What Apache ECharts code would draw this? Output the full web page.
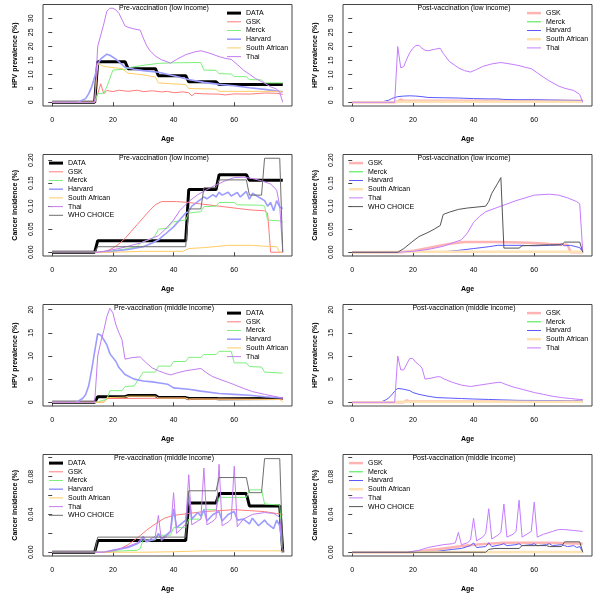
<!DOCTYPE html>
<html>
<head>
<meta charset="utf-8">
<script src="https://cdn.jsdelivr.net/npm/echarts@6/dist/echarts.min.js"></script>
<style>
html, body { margin: 0; padding: 0; background: #fff; }
#chart { width: 600px; height: 600px; }
</style>
</head>
<body>
<div id="chart"></div>
<script>
// axis ticks
const ageTicks = [0, 20, 40, 60]
const hpvLowTicks = [0, 5, 10, 15, 20, 25, 30]
const cancerLowTicks = [0, 0.05, 0.1, 0.15, 0.2]
const hpvMidTicks = [0, 5, 10, 15, 20]
const cancerMidTicks = [0, 0.02, 0.04, 0.06, 0.08, 0.1]
const cancerMidLabels = [0, 0.04, 0.08]

// panel 1: HPV prevalence, pre-vaccination, low income  [age, %]
const p1Data = [[0,0],[14,0],[15,14.5],[24,14.5],[25,12],[34,12],[35,9.5],[44,9.5],[45,7.3],[54,7.3],[55,6.3],[76,6.3]]
const p1GSK = [[0,0],[14,0],[15,3],[16,6.6],[17,3],[18,4.2],[20,3.8],[22,4.3],[25,3.9],[28,4.3],[30,3.8],[33,4.1],[36,3.7],[38,3.9],[40,3.4],[43,3.7],[45,3.4],[46,2.3],[47,3.2],[50,3],[55,2.9],[57,2.6],[60,3],[65,2.9],[70,3.3],[74,3.2],[76,2.8]]
const p1Merck = [[0,0],[14,0],[15,3],[17,3.3],[18,5.5],[20,11.5],[24,11.8],[26,12.5],[30,13.2],[35,13.9],[40,14.1],[49,14.2],[50,11.5],[54,11.4],[55,10.2],[59,10.1],[60,9.2],[64,9.1],[65,8.1],[69,8],[70,6.9],[76,6.9]]
const p1Harvard = [[0,0],[8,0],[9,0.3],[11,1.3],[12,3],[13,5.5],[14,9],[15,13.5],[16,15.5],[18,17.2],[19,16.8],[21,15.4],[24,12.5],[27,11.8],[30,11.3],[35,10.7],[40,9.5],[45,8.1],[50,7.1],[55,6.4],[60,5.9],[65,5.2],[70,4.6],[76,3.7]]
const p1SA = [[0,0],[14,0],[15,13.8],[17,12.8],[23,12],[25,10.4],[30,9.8],[34,9],[35,6.9],[44,6.3],[45,4.9],[54,4.7],[55,3.9],[76,3.9]]
const p1Thai = [[0,0],[14,0],[15,20],[16,24],[17,28],[18,32.5],[19,33.6],[20,33.6],[21,33],[22,31.8],[23,29.5],[24,27.3],[25,26.8],[27,26.2],[29,25.8],[30,23],[31,20.5],[32,18.7],[34,16.5],[36,15.2],[39,14],[41,15.3],[44,17],[47,18],[49,18.4],[52,17.5],[55,16.3],[57,15.7],[59,15.3],[61,13.5],[63,11.5],[65,10],[67,8.5],[70,6.8],[72,5.5],[74,4.7],[75,3.5],[76,0]]

// panel 2: HPV prevalence, post-vaccination, low income
const p2GSK = [[0,0],[14,0],[15,0.3],[16,1],[17,0.5],[76,0.5]]
const p2Merck = [[0,0],[14,0],[15,0.15],[76,0.15]]
const p2Harvard = [[0,0],[8,0],[10,0.2],[12,0.7],[13,1.3],[14,1.7],[15,2],[17,2.2],[19,2.3],[21,2.2],[23,2],[25,1.7],[30,1.6],[35,1.5],[40,1.3],[45,1.2],[48,1.2],[50,1],[55,0.9],[60,0.9],[65,0.8],[70,0.7],[76,0.6]]
const p2SA = [[0,0],[14,0],[15,0.2],[76,0.2]]
const p2Thai = [[0,0],[14,0],[15,19.9],[16,12.3],[17,12.8],[18,15.5],[19,17.8],[20,19.3],[21,20.3],[22,20.3],[23,19.3],[24,18.6],[25,18.4],[27,18.9],[29,19.3],[30,17.5],[32,14.6],[35,12.3],[37,11.3],[39,10.8],[41,11.7],[43,12.8],[46,13.7],[49,14.2],[52,13.7],[55,13.1],[57,12.5],[59,12],[61,10.5],[63,9],[65,7.6],[68,5.8],[70,5],[73,4.2],[75,2.8],[76,0]]

// panel 3: cancer incidence, pre-vaccination, low income
const p3Data = [[0,0],[14,0],[15,0.025],[44,0.025],[45,0.136],[54,0.136],[55,0.168],[64,0.168],[65,0.156],[76,0.156]]
const p3GSK = [[0,0],[16,0],[18,0.003],[20,0.009],[22,0.018],[24,0.03],[26,0.045],[28,0.06],[30,0.075],[32,0.09],[34,0.103],[36,0.11],[41,0.11],[45,0.108],[50,0.104],[55,0.1],[60,0.096],[65,0.092],[70,0.09],[71,0.085],[72,0],[76,0]]
const p3Merck = [[0,0],[15,0],[20,0.003],[25,0.008],[28,0.012],[29,0.02],[31,0.025],[33,0.03],[34,0.037],[35,0.05],[38,0.052],[39,0.06],[40,0.066],[44,0.07],[45,0.085],[49,0.088],[50,0.099],[54,0.1],[55,0.108],[60,0.108],[61,0.103],[69,0.102],[70,0.1],[71,0.07],[75,0.068],[76,0.065]]
const p3Harvard = [[0,0],[16,0],[20,0.002],[25,0.006],[30,0.012],[33,0.02],[35,0.027],[37,0.038],[40,0.055],[42,0.07],[44,0.085],[45,0.088],[46,0.1],[48,0.11],[50,0.12],[51,0.116],[53,0.125],[54,0.12],[55,0.13],[56,0.124],[58,0.13],[59,0.122],[61,0.13],[62,0.12],[64,0.132],[65,0.115],[66,0.128],[68,0.12],[70,0.112],[71,0.1],[72,0.108],[73,0.09],[74,0.112],[75,0.098],[76,0.095]]
const p3SA = [[0,0],[20,0],[30,0.002],[43,0.002],[45,0.008],[50,0.01],[55,0.013],[58,0.015],[66,0.015],[70,0.013],[74,0.012],[75,0],[76,0]]
const p3Thai = [[0,0],[15,0],[18,0.003],[22,0.008],[25,0.013],[29,0.02],[32,0.028],[35,0.036],[37,0.048],[40,0.07],[42,0.09],[45,0.11],[48,0.125],[51,0.136],[54,0.146],[57,0.155],[60,0.162],[63,0.163],[66,0.16],[69,0.155],[72,0.148],[74,0.135],[75,0.1],[76,0]]
const p3WHO = [[0,0],[14,0],[15,0.012],[44,0.012],[45,0.094],[49,0.094],[50,0.14],[54,0.14],[55,0.157],[64,0.157],[65,0.124],[69,0.124],[70,0.204],[75,0.204],[76,0]]

// panel 4: cancer incidence, post-vaccination, low income
const p4GSK = [[0,0],[16,0],[20,0.003],[25,0.009],[30,0.016],[34,0.02],[37,0.022],[48,0.022],[55,0.021],[60,0.02],[65,0.018],[70,0.017],[71,0.016],[72,0],[76,0]]
const p4Merck = [[0,0],[76,0]]
const p4Harvard = [[0,0],[25,0],[30,0.001],[35,0.004],[40,0.008],[45,0.012],[48,0.015],[56,0.015],[60,0.014],[65,0.015],[68,0.016],[69,0.018],[70,0.014],[72,0.015],[75,0.01],[76,0]]
const p4SA = [[0,0],[20,0.001],[76,0.001]]
const p4Thai = [[0,0],[15,0],[20,0.002],[25,0.006],[30,0.013],[33,0.02],[36,0.027],[38,0.042],[40,0.065],[42,0.078],[44,0.088],[49,0.1],[54,0.112],[60,0.124],[65,0.126],[68,0.124],[71,0.118],[74,0.11],[75,0.105],[76,0]]
const p4WHO = [[0,0],[15,0],[17,0.008],[20,0.024],[22,0.034],[25,0.043],[27,0.05],[29,0.058],[30,0.082],[32,0.087],[35,0.093],[38,0.096],[44,0.1],[45,0.11],[46,0.128],[48,0.15],[49,0.162],[50,0.009],[55,0.009],[56,0.014],[60,0.015],[65,0.016],[69,0.016],[70,0.022],[75,0.022],[76,0]]

// panel 5: HPV prevalence, pre-vaccination, middle income
const p5Data = [[0,0],[14,0],[15,1.2],[24,1.2],[25,1.45],[34,1.45],[35,1],[44,1],[45,0.8],[54,0.8],[55,0.75],[76,0.8]]
const p5GSK = [[0,0],[17,0],[18,0.8],[44,0.9],[45,0.5],[46,0.7],[76,0.6]]
const p5Merck = [[0,0],[15,0],[16,0.3],[18,0.6],[19,2.5],[23,2.5],[24,3.4],[27,3.5],[30,6.5],[34,6.5],[35,7.8],[39,7.8],[40,8.8],[44,8.8],[45,9.7],[49,9.7],[50,10.3],[54,10.3],[55,11],[59,11],[60,8.5],[64,8.5],[65,7.7],[69,7.6],[70,6.5],[76,6.3]]
const p5Harvard = [[0,0],[8,0],[10,0.8],[11,1.6],[12,3.5],[13,7],[14,11],[15,14.8],[16,14.5],[17,13.5],[18,12.4],[19,10.5],[21,8.8],[22,7.5],[24,6],[27,5],[30,4.6],[33,4.4],[36,4.1],[38,3.9],[40,3.1],[45,2.8],[49,2.4],[55,1.9],[60,1.7],[65,1.5],[70,1.2],[76,0.9]]
const p5SA = [[0,0],[17,0],[18,1],[24,1.1],[25,1.3],[34,1.3],[35,0.9],[44,0.9],[45,0.7],[75,0.6],[76,0.1]]
const p5Thai = [[0,0],[14,0],[15,10],[16,13],[17,15.5],[18,18.5],[19,20.3],[20,19.3],[21,16.7],[22,15],[23,13.5],[24,9.3],[26,9.6],[29,9.8],[31,8.5],[33,7.4],[35,6.8],[37,6.3],[39,5.9],[41,6.3],[44,6.8],[46,7],[49,7.3],[51,6.3],[53,5.5],[55,5],[58,4.3],[60,3.8],[63,3],[66,2.3],[70,1.7],[73,1.3],[76,0.9]]

// panel 6: HPV prevalence, post-vaccination, middle income
const p6GSK = [[0,0],[17,0],[18,0.4],[19,0.15],[76,0.15]]
const p6Merck = [[0,0],[15,0],[16,0.05],[76,0.05]]
const p6Harvard = [[0,0],[8,0],[10,0.2],[11,0.5],[12,0.9],[13,1.6],[14,2.4],[15,3],[17,2.8],[19,2.5],[20,2.1],[22,1.7],[25,1.3],[28,1],[32,0.9],[36,0.8],[40,0.7],[45,0.6],[50,0.5],[55,0.4],[70,0.35],[73,0.3],[76,0.5]]
const p6SA = [[0,0],[14,0],[15,0.1],[76,0.1]]
const p6Thai = [[0,0],[14,0],[15,10],[16,7],[17,7],[18,8.3],[19,9.5],[20,9.4],[21,8.6],[22,8.1],[23,7.4],[24,5],[26,5.2],[28,5.5],[29,5.5],[30,5.1],[33,4.3],[36,3.7],[39,3.4],[42,3.7],[45,4],[48,4.3],[49,4.3],[50,4],[53,3.3],[56,2.8],[60,2.1],[63,1.7],[66,1.3],[69,1],[72,0.8],[75,0.6],[76,0.5]]

// panel 7: cancer incidence, pre-vaccination, middle income
const p7Data = [[0,0],[14,0],[15,0.0123],[44,0.0123],[45,0.052],[54,0.052],[55,0.062],[64,0.062],[65,0.049],[75,0.049],[76,0]]
const p7GSK = [[0,0],[18,0],[20,0.001],[22,0.003],[25,0.008],[28,0.015],[31,0.023],[34,0.03],[37,0.036],[40,0.039],[45,0.041],[50,0.043],[55,0.044],[60,0.045],[65,0.044],[70,0.043],[74,0.041],[76,0.04]]
const p7Merck = [[0,0],[19,0],[20,0.001],[28,0.002],[29,0.004],[30,0.013],[34,0.013],[35,0.018],[39,0.018],[40,0.026],[44,0.026],[45,0.035],[49,0.035],[50,0.045],[54,0.045],[55,0.058],[64,0.058],[65,0.066],[69,0.066],[70,0.051],[75,0.05],[76,0]]
const p7Harvard = [[0,0],[17,0],[20,0.002],[25,0.005],[28,0.009],[29,0.011],[30,0.016],[31,0.011],[34,0.014],[35,0.02],[36,0.014],[39,0.022],[40,0.046],[41,0.026],[44,0.034],[45,0.06],[46,0.035],[48,0.042],[49,0.038],[50,0.045],[51,0.033],[53,0.04],[55,0.043],[56,0.033],[58,0.04],[60,0.043],[61,0.034],[63,0.035],[65,0.03],[66,0.036],[68,0.028],[70,0.034],[71,0.03],[73,0.025],[74,0.034],[75,0.028],[76,0]]
const p7SA = [[0,0],[30,0],[40,0.0005],[45,0.001],[50,0.0015],[75,0.0015],[76,0]]
const p7Thai = [[0,0],[17,0],[20,0.002],[25,0.006],[28,0.01],[30,0.017],[31,0.012],[33,0.015],[34,0.017],[35,0.039],[36,0.012],[38,0.018],[39,0.022],[40,0.063],[41,0.02],[43,0.026],[44,0.03],[45,0.082],[46,0.029],[48,0.033],[49,0.035],[50,0.089],[51,0.029],[53,0.033],[54,0.036],[55,0.093],[56,0.028],[58,0.032],[59,0.035],[60,0.091],[61,0.027],[63,0.035],[66,0.04],[70,0.042],[73,0.041],[75,0.037],[76,0]]
const p7WHO = [[0,0],[14,0],[15,0.016],[44,0.016],[45,0.065],[54,0.065],[55,0.079],[64,0.079],[65,0.063],[69,0.063],[70,0.099],[75,0.099],[76,0]]

// panel 8: cancer incidence, post-vaccination, middle income
const p8GSK = [[0,0],[20,0],[25,0.002],[30,0.004],[35,0.006],[40,0.008],[45,0.009],[50,0.01],[65,0.01],[70,0.0095],[76,0.009]]
const p8Merck = [[0,0],[76,0]]
const p8Harvard = [[0,0],[20,0],[28,0.001],[33,0.003],[36,0.004],[39,0.007],[40,0.0098],[41,0.005],[44,0.006],[45,0.01],[46,0.006],[49,0.008],[50,0.009],[51,0.007],[54,0.008],[55,0.009],[56,0.007],[59,0.008],[60,0.009],[61,0.007],[64,0.008],[65,0.009],[66,0.007],[69,0.008],[70,0.007],[71,0.006],[73,0.007],[74,0.005],[75,0.006],[76,0]]
const p8SA = [[0,0],[76,0.0003]]
const p8Thai = [[0,0],[18,0],[22,0.002],[25,0.005],[30,0.008],[33,0.009],[34,0.01],[35,0.021],[36,0.008],[38,0.01],[39,0.013],[40,0.036],[41,0.012],[43,0.016],[44,0.02],[45,0.046],[46,0.014],[48,0.018],[49,0.021],[50,0.051],[51,0.016],[53,0.019],[54,0.022],[55,0.055],[56,0.016],[58,0.02],[59,0.022],[60,0.053],[61,0.016],[63,0.019],[66,0.022],[68,0.024],[70,0.024],[73,0.023],[76,0.022]]
const p8WHO = [[0,0],[44,0],[45,0.003],[47,0.004],[55,0.004],[56,0.007],[64,0.007],[65,0.006],[69,0.006],[70,0.011],[75,0.011],[76,0]]

const FONT = '"Liberation Sans", Arial, sans-serif'

// line styles (pre / post vaccination look different in the original)
const preStyle = {
  'DATA': { color: '#000000', width: 3 },
  'GSK': { color: '#ff7b7b', width: 1 },
  'Merck': { color: '#7cf07c', width: 1 },
  'Harvard': { color: '#9c9cff', width: 1.6 },
  'South African': { color: '#ffcc66', width: 1 },
  'Thai': { color: '#c47cf2', width: 1 },
  'WHO CHOICE': { color: '#6e6e6e', width: 1 }
}
const postStyle = {
  'GSK': { color: '#ffb4b4', width: 2.5 },
  'Merck': { color: '#3ee83e', width: 1 },
  'Harvard': { color: '#5a5aff', width: 1 },
  'South African': { color: '#ffe2b4', width: 2.5 },
  'Thai': { color: '#c57cff', width: 1 },
  'WHO CHOICE': { color: '#555555', width: 1 }
}

const panels = [
  { title: 'Pre-vaccination (low income)', yName: 'HPV prevalence (%)', yMax: 33.6, ticks: hpvLowTicks, labels: hpvLowTicks, digits: 0, legendAt: 'right', style: preStyle,
    lines: [['DATA', p1Data], ['GSK', p1GSK], ['Merck', p1Merck], ['Harvard', p1Harvard], ['South African', p1SA], ['Thai', p1Thai]] },
  { title: 'Post-vaccination (low income)', yName: 'HPV prevalence (%)', yMax: 33.6, ticks: hpvLowTicks, labels: hpvLowTicks, digits: 0, legendAt: 'right', style: postStyle,
    lines: [['GSK', p2GSK], ['Merck', p2Merck], ['Harvard', p2Harvard], ['South African', p2SA], ['Thai', p2Thai]] },
  { title: 'Pre-vaccination (low income)', yName: 'Cancer incidence (%)', yMax: 0.204, ticks: cancerLowTicks, labels: cancerLowTicks, digits: 2, legendAt: 'left', style: preStyle,
    lines: [['DATA', p3Data], ['GSK', p3GSK], ['Merck', p3Merck], ['Harvard', p3Harvard], ['South African', p3SA], ['Thai', p3Thai], ['WHO CHOICE', p3WHO]] },
  { title: 'Post-vaccination (low income)', yName: 'Cancer incidence (%)', yMax: 0.204, ticks: cancerLowTicks, labels: cancerLowTicks, digits: 2, legendAt: 'left', style: postStyle,
    lines: [['GSK', p4GSK], ['Merck', p4Merck], ['Harvard', p4Harvard], ['South African', p4SA], ['Thai', p4Thai], ['WHO CHOICE', p4WHO]] },
  { title: 'Pre-vaccination (middle income)', yName: 'HPV prevalence (%)', yMax: 20.3, ticks: hpvMidTicks, labels: hpvMidTicks, digits: 0, legendAt: 'right', style: preStyle,
    lines: [['DATA', p5Data], ['GSK', p5GSK], ['Merck', p5Merck], ['Harvard', p5Harvard], ['South African', p5SA], ['Thai', p5Thai]] },
  { title: 'Post-vaccination (middle income)', yName: 'HPV prevalence (%)', yMax: 20.3, ticks: hpvMidTicks, labels: hpvMidTicks, digits: 0, legendAt: 'right', style: postStyle,
    lines: [['GSK', p6GSK], ['Merck', p6Merck], ['Harvard', p6Harvard], ['South African', p6SA], ['Thai', p6Thai]] },
  { title: 'Pre-vaccination (middle income)', yName: 'Cancer incidence (%)', yMax: 0.0994, ticks: cancerMidTicks, labels: cancerMidLabels, digits: 2, legendAt: 'left', style: preStyle,
    lines: [['DATA', p7Data], ['GSK', p7GSK], ['Merck', p7Merck], ['Harvard', p7Harvard], ['South African', p7SA], ['Thai', p7Thai], ['WHO CHOICE', p7WHO]] },
  { title: 'Post-vaccination (middle income)', yName: 'Cancer incidence (%)', yMax: 0.0994, ticks: cancerMidTicks, labels: cancerMidLabels, digits: 2, legendAt: 'left', style: postStyle,
    lines: [['GSK', p8GSK], ['Merck', p8Merck], ['Harvard', p8Harvard], ['South African', p8SA], ['Thai', p8Thai], ['WHO CHOICE', p8WHO]] }
]

const grid = [], xAxis = [], yAxis = [], series = [], legend = [], title = []

panels.forEach((p, i) => {
  const col = i % 2
  const row = Math.floor(i / 2)
  const ox = col * 300
  const oy = row * 150

  grid.push({
    left: ox + 43, top: oy + 4.5, width: 249, height: 101.5,
    show: true, borderColor: '#444', borderWidth: 1, backgroundColor: 'transparent'
  })

  xAxis.push({
    type: 'value', gridIndex: i, min: -3.04, max: 79.04,
    name: 'Age', nameLocation: 'middle', nameGap: 29.5,
    nameTextStyle: { fontFamily: FONT, fontSize: 7, fontWeight: 'bold', color: '#000' },
    axisLine: { show: false },
    axisTick: { show: true, length: 4, customValues: ageTicks, lineStyle: { color: '#444' } },
    axisLabel: { customValues: ageTicks, margin: 10.5, fontFamily: FONT, fontSize: 7, color: '#000' },
    splitLine: { show: false }
  })

  yAxis.push({
    type: 'value', gridIndex: i, min: -0.04 * p.yMax, max: 1.04 * p.yMax,
    name: p.yName, nameLocation: 'middle', nameGap: 24,
    nameTextStyle: { fontFamily: FONT, fontSize: 7, fontWeight: 'bold', color: '#000' },
    axisLine: { show: false },
    axisTick: { show: true, length: 4, customValues: p.ticks, lineStyle: { color: '#444' } },
    axisLabel: {
      customValues: p.labels, rotate: 90, margin: 8,
      fontFamily: FONT, fontSize: 7, color: '#000',
      formatter: v => Number(v).toFixed(p.digits)
    },
    splitLine: { show: false }
  })

  title.push({
    text: p.title, left: ox + 164, top: oy + 4.5, textAlign: 'center', padding: 0,
    textStyle: { fontFamily: FONT, fontSize: 7, fontWeight: 'normal', color: '#000' }
  })

  p.lines.forEach(([name, data]) => {
    const s = p.style[name]
    series.push({
      type: 'line', name, data, xAxisIndex: i, yAxisIndex: i,
      symbol: 'none', silent: true, animation: false,
      lineStyle: { color: s.color, width: s.width },
      itemStyle: { color: s.color }
    })
  })

  legend.push({
    orient: 'vertical',
    left: ox + (p.legendAt === 'right' ? 227 : 49),
    top: oy + 9.6,
    padding: 0, itemWidth: 14, itemHeight: 7, itemGap: 1.7,
    selectedMode: false,
    textStyle: { fontFamily: FONT, fontSize: 7, lineHeight: 7, color: '#000' },
    data: p.lines.map(([name]) => {
      const s = p.style[name]
      return {
        name,
        icon: 'path://M0,0H14V' + s.width + 'H0Z',
        itemStyle: { color: s.color, borderWidth: 0 }
      }
    })
  })
})

const chart = echarts.init(document.getElementById('chart'), null, { renderer: 'canvas' })
chart.setOption({
  animation: false,
  backgroundColor: '#fff',
  title, grid, xAxis, yAxis, legend, series
})
</script>
</body>
</html>
